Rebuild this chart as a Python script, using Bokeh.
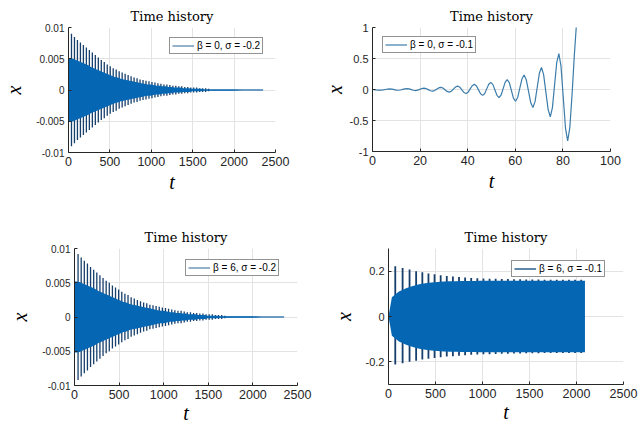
from bokeh.plotting import figure
from bokeh.models import Range1d, FixedTicker, Legend, LegendItem
from bokeh.layouts import column, row
from bokeh.embed import file_html
from bokeh.resources import INLINE

# ---------------- data ----------------
titles = ["Time history", "Time history", "Time history", "Time history"]
legend_labels = ["β = 0, σ = -0.2", "β = 0, σ = -0.1", "β = 6, σ = -0.2", "β = 6, σ = -0.1"]

t_ticks_long = [0, 500, 1000, 1500, 2000, 2500]
t_ticks_short = [0, 20, 40, 60, 80, 100]
x_ticks_small = [-0.01, -0.005, 0, 0.005, 0.01]
x_labels_small = ["-0.01", "-0.005", "0", "0.005", "0.01"]
x_ticks_unit = [-1, -0.5, 0, 0.5, 1]
x_labels_unit = ["-1", "-0.5", "0", "0.5", "1"]
x_ticks_mid = [-0.2, 0, 0.2]
x_labels_mid = ["-0.2", "0", "0.2"]

# panel 1 (beta=0, sigma=-0.2): beat peaks and envelope of the dense oscillation
p1_peak_t = [36, 72, 108, 144, 180, 216, 252, 288, 324, 360, 396, 432, 468, 504, 540, 576,
             612, 648, 684, 720, 756, 792, 828, 864, 900, 936, 972, 1008, 1044, 1080, 1116,
             1152, 1188, 1224, 1260, 1296, 1332, 1368, 1404, 1440, 1476, 1512, 1548, 1584,
             1620, 1656, 1692]
p1_peak_x = [0.0090, 0.0085, 0.0080, 0.0076, 0.0072, 0.0068, 0.0064, 0.0060, 0.0056, 0.0052,
             0.0048, 0.0045, 0.0041, 0.0038, 0.0035, 0.0033, 0.0030, 0.0028, 0.0026, 0.0024,
             0.0022, 0.0020, 0.0019, 0.0017, 0.0016, 0.0015, 0.0014, 0.0013, 0.0012, 0.0011,
             0.0010, 0.0009, 0.0009, 0.0008, 0.0007, 0.0007, 0.0006, 0.0006, 0.0005, 0.0005,
             0.0004, 0.0004, 0.0004, 0.0003, 0.0003, 0.0003, 0.0002]
p1_env_t = [0, 18, 54, 90, 126, 162, 198, 234, 270, 306, 342, 378, 414, 450, 486, 522, 558,
            594, 630, 666, 702, 738, 774, 810, 846, 882, 918, 954, 990, 1026, 1062, 1098,
            1134, 1170, 1206, 1242, 1278, 1314, 1350, 1386, 1422, 1458, 1494, 1530, 1566,
            1602, 1638, 1674, 1710, 1800, 1900, 2000, 2100, 2200, 2350]
p1_env_x = [0.0050, 0.0051, 0.0050, 0.0048, 0.0046, 0.0044, 0.0042, 0.0040, 0.0037, 0.0035,
            0.0033, 0.0031, 0.0029, 0.0027, 0.0025, 0.0023, 0.0021, 0.0020, 0.0018, 0.0017,
            0.0016, 0.0015, 0.0014, 0.0013, 0.0012, 0.0011, 0.0010, 0.0009, 0.0009, 0.0008,
            0.0007, 0.0007, 0.0006, 0.0006, 0.0005, 0.0005, 0.0004, 0.0004, 0.0004, 0.0003,
            0.0003, 0.0003, 0.0002, 0.0002, 0.0002, 0.0002, 0.0001, 0.0001, 0.0001, 0.0001,
            0.0001, 0.0001, 0.00005, 0.00005, 0.00005]

# panel 2 (beta=0, sigma=-0.1): growing oscillation
p2_t = [0.0, 1.2, 2.4, 3.6, 4.5, 5.45, 6.4, 7.3, 8.2, 9.1, 10.0, 10.9, 11.8, 12.7, 13.6, 14.5,
        15.4, 16.3, 17.2, 18.1, 19.0, 19.85, 20.7, 21.6, 22.5, 23.4, 24.3, 25.2, 26.1, 26.95,
        27.8, 28.7, 29.6, 30.45, 31.3, 32.2, 33.1, 34.0, 34.9, 35.8, 36.7, 37.55, 38.4, 39.3,
        40.2, 41.05, 41.9, 42.8, 43.7, 44.55, 45.4, 46.3, 47.15, 48.0, 48.85, 49.7, 50.6,
        51.45, 52.3, 53.2, 54.05, 54.9, 55.75, 56.6, 57.5, 58.35, 59.2, 60.1, 61.0, 61.9,
        62.8, 63.7, 64.6, 65.55, 66.5, 67.4, 68.3, 69.2, 70.1, 71.0, 71.9, 72.85, 73.8, 74.7,
        75.6, 76.5, 77.4, 78.3, 79.2, 80.15, 81.1, 82.0, 82.9, 83.9, 84.8, 85.6, 86.2]
p2_x = [0.0, -0.005, -0.009, -0.010, -0.007, 0.0, 0.007, 0.010, 0.007, -0.001, -0.009,
        -0.012, -0.008, 0.001, 0.010, 0.014, 0.0095, -0.0015, -0.0125, -0.017, -0.011,
        0.0025, 0.016, 0.022, 0.015, -0.0025, -0.020, -0.027, -0.018, 0.004, 0.026, 0.035,
        0.024, -0.0035, -0.031, -0.042, -0.028, 0.0065, 0.041, 0.055, 0.037, -0.005, -0.047,
        -0.065, -0.043, 0.009, 0.061, 0.083, 0.057, -0.006, -0.069, -0.095, -0.064, 0.010,
        0.084, 0.115, 0.079, -0.0075, -0.094, -0.130, -0.088, 0.015, 0.118, 0.160, 0.109,
        -0.015, -0.139, -0.190, -0.128, 0.0225, 0.173, 0.235, 0.159, -0.0275, -0.214, -0.290,
        -0.196, 0.0325, 0.261, 0.355, 0.239, -0.0425, -0.324, -0.440, -0.292, 0.070, 0.432,
        0.580, 0.376, -0.125, -0.626, -0.830, -0.62, -0.05, 0.55, 1.0, 1.25]

# panel 3 (beta=6, sigma=-0.2)
p3_peak_t = [40, 75, 110, 145, 180, 215, 250, 285, 320, 355, 390, 425, 460, 495, 530, 565,
             600, 635, 670, 705, 740, 775, 810, 845, 880, 915, 950, 985, 1020, 1055, 1090,
             1125, 1160, 1195, 1230, 1265, 1300, 1335, 1370, 1405, 1440, 1475, 1510, 1545,
             1580, 1615, 1650, 1685]
p3_peak_x = [0.0092, 0.0087, 0.0082, 0.0078, 0.0073, 0.0069, 0.0065, 0.0061, 0.0057, 0.0053,
             0.0050, 0.0046, 0.0043, 0.0040, 0.0037, 0.0034, 0.0032, 0.0029, 0.0027, 0.0025,
             0.0023, 0.0021, 0.0020, 0.0018, 0.0017, 0.0016, 0.0015, 0.0014, 0.0013, 0.0012,
             0.0011, 0.0010, 0.0009, 0.0009, 0.0008, 0.0007, 0.0007, 0.0006, 0.0006, 0.0005,
             0.0005, 0.0004, 0.0004, 0.0004, 0.0003, 0.0003, 0.0003, 0.0002]
p3_env_t = [0, 22, 58, 93, 128, 163, 198, 233, 268, 303, 338, 373, 408, 443, 478, 513, 548,
            583, 618, 653, 688, 723, 758, 793, 828, 863, 898, 933, 968, 1003, 1038, 1073,
            1108, 1143, 1178, 1213, 1248, 1283, 1318, 1353, 1388, 1423, 1458, 1493, 1528,
            1563, 1598, 1633, 1668, 1703, 1800, 1900, 2000, 2100, 2200, 2350]
p3_env_x = [0.0052, 0.0052, 0.0051, 0.0049, 0.0047, 0.0045, 0.0043, 0.0041, 0.0038, 0.0036,
            0.0034, 0.0032, 0.0030, 0.0028, 0.0026, 0.0024, 0.0022, 0.0021, 0.0019, 0.0018,
            0.0017, 0.0016, 0.0015, 0.0014, 0.0013, 0.0012, 0.0011, 0.0010, 0.0009, 0.0009,
            0.0008, 0.0007, 0.0007, 0.0006, 0.0006, 0.0005, 0.0005, 0.0004, 0.0004, 0.0004,
            0.0003, 0.0003, 0.0003, 0.0002, 0.0002, 0.0002, 0.0002, 0.0001, 0.0001, 0.0001,
            0.0001, 0.0001, 0.0001, 0.00005, 0.00005, 0.00005]

# panel 4 (beta=6, sigma=-0.1): settles to a limit cycle
p4_peak_t = [72, 150, 224, 294, 360, 425, 490, 555, 620, 685, 750, 815, 880, 945, 1010,
             1075, 1140, 1205, 1270, 1335, 1400, 1465, 1530, 1595, 1660, 1725, 1790, 1855,
             1920, 1985, 2050]
p4_peak_hi = [0.222, 0.214, 0.207, 0.200, 0.195, 0.190, 0.186, 0.182, 0.179, 0.176, 0.174,
              0.172, 0.170, 0.169, 0.168, 0.167, 0.166, 0.165, 0.165, 0.164, 0.164, 0.163,
              0.163, 0.163, 0.162, 0.162, 0.162, 0.162, 0.162, 0.162, 0.162]
p4_peak_lo = [-0.212, -0.206, -0.200, -0.195, -0.190, -0.186, -0.183, -0.180, -0.177, -0.175,
              -0.173, -0.171, -0.169, -0.168, -0.167, -0.166, -0.165, -0.164, -0.164, -0.163,
              -0.163, -0.162, -0.162, -0.162, -0.161, -0.161, -0.161, -0.161, -0.161, -0.161,
              -0.161]
p4_env_t = [0, 36, 111, 187, 259, 327, 392, 457, 522, 587, 652, 717, 782, 847, 912, 977,
            1042, 1107, 1172, 1237, 1302, 1367, 1432, 1497, 1562, 1627, 1692, 1757, 1822,
            1887, 1952, 2017, 2090]
p4_env_x = [0.0, 0.085, 0.110, 0.125, 0.135, 0.142, 0.147, 0.150, 0.152, 0.154, 0.155, 0.156,
            0.157, 0.157, 0.157, 0.158, 0.158, 0.158, 0.158, 0.158, 0.158, 0.158, 0.158,
            0.158, 0.158, 0.158, 0.158, 0.158, 0.158, 0.158, 0.158, 0.158, 0.158]

# ---------------- styling ----------------
BODY = "#0567b4"
SPIKE = "#173f6b"
LINE = "#3b7cab"
LEG_LINE = "#6f97ba"
GRID = "#e3e3e3"
AXIS = "#262626"
SANS = "Liberation Sans"
SERIF = "Liberation Serif"
TITLE_FONT = "DejaVu Serif"


def make_fig(title, fw, fh, bl, br, bt, bb, xr, yr, xticks, yticks, ylabels, xstand, ystand,
             ytick_size, title_standoff):
    p = figure(frame_width=fw, frame_height=fh, min_border_left=bl, min_border_right=br,
               min_border_top=bt, min_border_bottom=bb,
               x_range=Range1d(*xr), y_range=Range1d(*yr),
               toolbar_location=None, output_backend="svg", title=title)
    p.outline_line_color = None
    p.background_fill_color = "white"
    p.border_fill_color = "white"
    p.title.text_font = TITLE_FONT
    p.title.text_font_size = "13px"
    p.title.text_font_style = "normal"
    p.title.text_color = "black"
    p.title.align = "center"
    p.title.standoff = title_standoff
    p.xaxis.ticker = FixedTicker(ticks=xticks)
    p.yaxis.ticker = FixedTicker(ticks=yticks)
    p.yaxis.major_label_overrides = {v: s for v, s in zip(yticks, ylabels)}
    for ax in (p.xaxis, p.yaxis):
        ax.axis_line_color = AXIS
        ax.major_tick_line_color = AXIS
        ax.major_tick_in = 3
        ax.major_tick_out = 0
        ax.minor_tick_line_color = None
        ax.major_label_text_font = SANS
        ax.major_label_text_color = AXIS
        ax.major_label_standoff = 4
        ax.axis_label_text_font = SERIF
        ax.axis_label_text_font_style = "italic"
        ax.axis_label_text_font_size = "20px"
        ax.axis_label_text_color = "black"
    p.xaxis.major_label_text_font_size = "12.5px"
    p.yaxis.major_label_text_font_size = ytick_size
    p.xaxis.axis_label = "t"
    p.yaxis.axis_label = "x"
    p.xaxis.axis_label_standoff = xstand
    p.yaxis.axis_label_standoff = ystand
    p.xgrid.grid_line_color = GRID
    p.ygrid.grid_line_color = GRID
    return p


def add_legend(p, label, r, loc):
    leg = Legend(items=[LegendItem(label=label, renderers=[r])], location=loc,
                 margin=0, padding=2, spacing=0, glyph_width=22, glyph_height=11,
                 label_height=11, label_standoff=3, label_text_font=SANS,
                 label_text_font_size="10px", label_text_color="black",
                 border_line_color=AXIS, border_line_width=1,
                 background_fill_color="white", background_fill_alpha=1.0)
    p.add_layout(leg)


def dense(p, peak_t, peak_hi, peak_lo, env_t, env_x, spike_w, leg_color):
    zeros = [0] * len(peak_t)
    axis_line = p.line(x=env_t, y=[0] * len(env_t), line_color=leg_color, line_width=1.5)
    p.segment(x0=peak_t, y0=zeros, x1=peak_t, y1=peak_hi, line_color=SPIKE, line_width=spike_w)
    p.segment(x0=peak_t, y0=zeros, x1=peak_t, y1=peak_lo, line_color=SPIKE, line_width=spike_w)
    p.varea(x=env_t, y1=[-v for v in env_x], y2=env_x, fill_color=BODY)
    return axis_line


# panel 1
f1 = make_fig(titles[0], 207, 125, 68, 45, 27, 63, (0, 2500), (-0.01, 0.01),
              t_ticks_long, x_ticks_small, x_labels_small, 2, 8, "10px", 7)
r1 = dense(f1, p1_peak_t, p1_peak_x, [-v for v in p1_peak_x], p1_env_t, p1_env_x, 1.3, LEG_LINE)
add_legend(f1, legend_labels[0], r1, (101, 98))

# panel 2
f2 = make_fig(titles[1], 238, 124, 49, 36, 27, 64, (0, 100), (-1, 1),
              t_ticks_short, x_ticks_unit, x_labels_unit, 2, 1, "11px", 7)
r2 = f2.line(x=p2_t, y=p2_x, line_color=LINE, line_width=1.2)
add_legend(f2, legend_labels[1], r2, (10, 98))

# panel 3
f3 = make_fig(titles[2], 223, 137, 74, 23, 33, 38, (0, 2500), (-0.01, 0.01),
              t_ticks_long, x_ticks_small, x_labels_small, 0, 8, "10px", 8)
r3 = dense(f3, p3_peak_t, p3_peak_x, [-v for v in p3_peak_x], p3_env_t, p3_env_x, 1.3, LEG_LINE)
add_legend(f3, legend_labels[2], r3, (111, 109))

# panel 4
f4 = make_fig(titles[3], 235, 136, 68, 20, 32, 40, (0, 2500), (-0.3, 0.3),
              t_ticks_long, x_ticks_mid, x_labels_mid, 0, 8, "11px", 8)
r4 = dense(f4, p4_peak_t, p4_peak_hi, p4_peak_lo, p4_env_t, p4_env_x, 1.8, "#2a5c8c")
add_legend(f4, legend_labels[3], r4, (123, 107))

layout = column(row(f1, f2), row(f3, f4))
open("out.html", "w").write(file_html(layout, INLINE))
